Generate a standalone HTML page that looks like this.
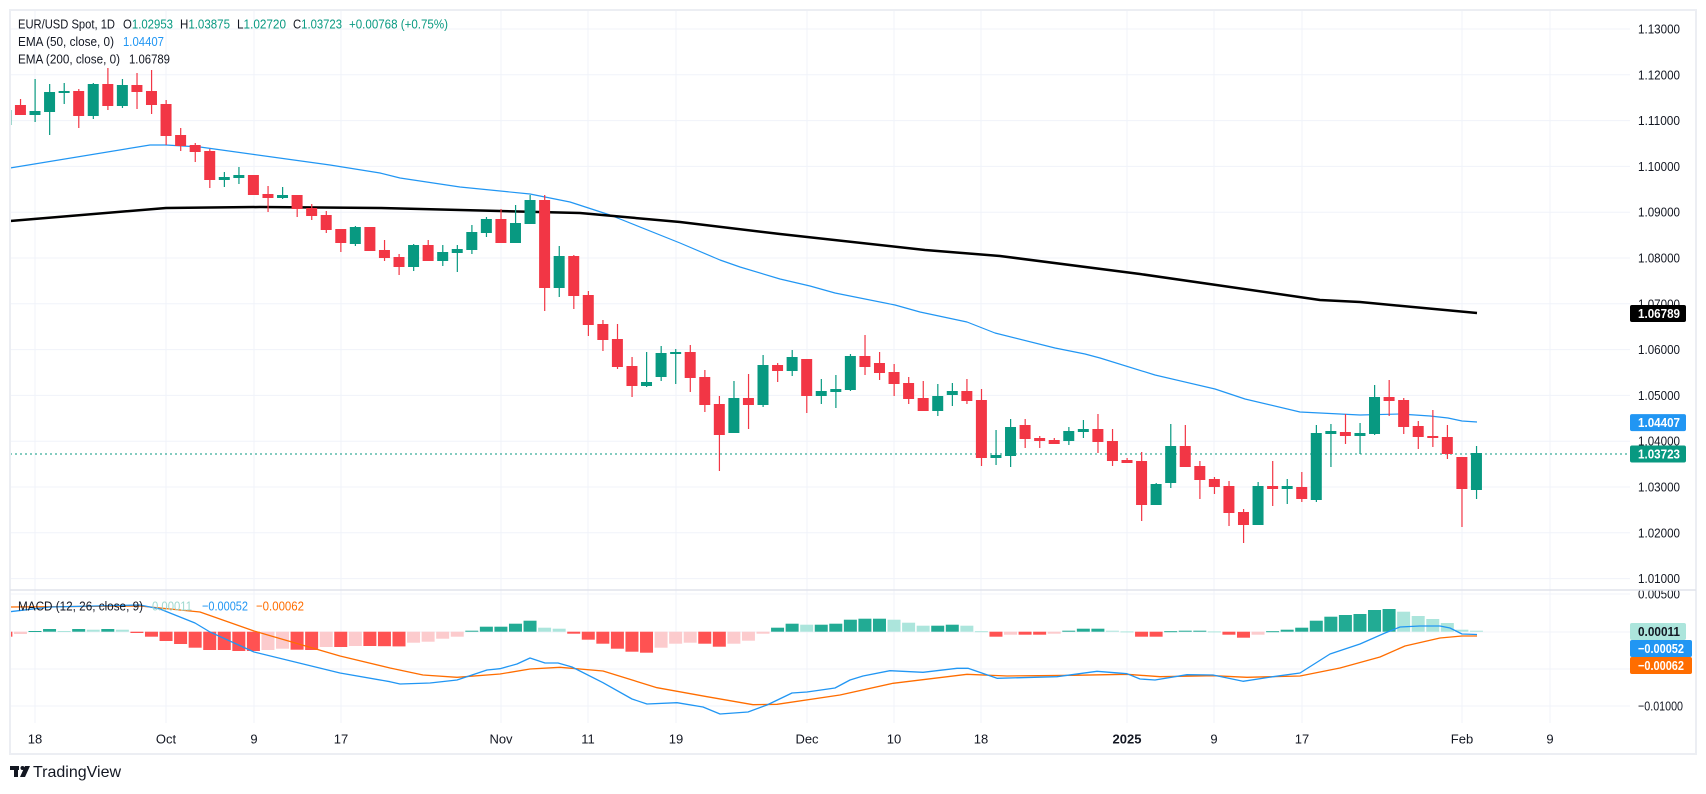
<!DOCTYPE html>
<html><head><meta charset="utf-8">
<style>
html,body{margin:0;padding:0;background:#fff;}
body{width:1706px;height:789px;overflow:hidden;font-family:"Liberation Sans",sans-serif;}
svg text{font-family:"Liberation Sans",sans-serif;}
</style></head>
<body>
<svg id="c" width="1706" height="789" viewBox="0 0 1706 789" xmlns="http://www.w3.org/2000/svg">
<defs><clipPath id="cl"><rect x="10" y="10" width="1620" height="744"/></clipPath></defs>
<g id="grid"></g>
<g id="hist" clip-path="url(#cl)"></g>
<g id="lines" clip-path="url(#cl)"></g>
<g id="candles" clip-path="url(#cl)"></g>
<g id="labels"></g>
<rect x="10" y="10" width="1686" height="744" fill="none" stroke="#eceef3" stroke-width="2"/>
<line x1="10" y1="590" x2="1696" y2="590" stroke="#e0e3eb" stroke-width="1.5"/>
<!-- legend -->
<g font-size="13" fill="#131722">
<text x="18" y="28.5" textLength="97" lengthAdjust="spacingAndGlyphs">EUR/USD Spot, 1D</text>
<text x="123" y="28.5" textLength="50" lengthAdjust="spacingAndGlyphs">O<tspan fill="#089981">1.02953</tspan></text>
<text x="180" y="28.5" textLength="50" lengthAdjust="spacingAndGlyphs">H<tspan fill="#089981">1.03875</tspan></text>
<text x="237" y="28.5" textLength="49" lengthAdjust="spacingAndGlyphs">L<tspan fill="#089981">1.02720</tspan></text>
<text x="293" y="28.5" textLength="49" lengthAdjust="spacingAndGlyphs">C<tspan fill="#089981">1.03723</tspan></text>
<text x="349" y="28.5" fill="#089981" textLength="99" lengthAdjust="spacingAndGlyphs">+0.00768 (+0.75%)</text>
<text x="18" y="46" textLength="96" lengthAdjust="spacingAndGlyphs">EMA (50, close, 0)</text>
<text x="123" y="46" fill="#2196f3" textLength="41" lengthAdjust="spacingAndGlyphs">1.04407</text>
<text x="18" y="63.5" textLength="102" lengthAdjust="spacingAndGlyphs">EMA (200, close, 0)</text>
<text x="129" y="63.5" textLength="41" lengthAdjust="spacingAndGlyphs">1.06789</text>
<text x="18" y="610.5" textLength="125" lengthAdjust="spacingAndGlyphs">MACD (12, 26, close, 9)</text>
<text x="152" y="610.5" fill="#9fd8cf" textLength="40" lengthAdjust="spacingAndGlyphs">0.00011</text>
<text x="202" y="610.5" fill="#2196f3" textLength="46" lengthAdjust="spacingAndGlyphs">−0.00052</text>
<text x="256" y="610.5" fill="#ff6d00" textLength="48" lengthAdjust="spacingAndGlyphs">−0.00062</text>
</g>
<!-- logo -->
<g fill="#131722">
<rect x="10" y="766" width="9" height="4"/>
<rect x="14" y="766" width="4" height="11"/>
<circle cx="22.5" cy="768" r="2"/>
<polygon points="25,766 30,766 25,777 20,777"/>
<text x="33" y="777" font-size="16">TradingView</text>
</g>
</svg>
<script>
var NS="http://www.w3.org/2000/svg";
function el(p,t,a,txt){var e=document.createElementNS(NS,t);for(var k in a)e.setAttribute(k,a[k]);if(txt!==undefined)e.textContent=txt;document.getElementById(p).appendChild(e);return e;}
function X(i){return 35+14.56*i;}
var prices=["1.13000","1.12000","1.11000","1.10000","1.09000","1.08000","1.07000","1.06000","1.05000","1.04000","1.03000","1.02000","1.01000"];
for(var k=0;k<prices.length;k++){var y=29+k*45.8;el("grid","line",{x1:10,x2:1630,y1:y,y2:y,stroke:"#f0f3fa","stroke-width":1});
 el("labels","text",{x:1638,y:y+4.5,"font-size":13,fill:"#131722",textLength:42,lengthAdjust:"spacingAndGlyphs"},prices[k]);}
[594,632,669,706].forEach(function(y){el("grid","line",{x1:10,x2:1630,y1:y,y2:y,stroke:"#f0f3fa","stroke-width":1});});
el("labels","rect",{x:1630,y:591,width:60,height:5,fill:"#fff"});
el("labels","text",{x:1638,y:598.5,"font-size":13,fill:"#131722",textLength:42,lengthAdjust:"spacingAndGlyphs"},"0.00500");
el("labels","text",{x:1638,y:710.5,"font-size":13,fill:"#131722",textLength:45,lengthAdjust:"spacingAndGlyphs"},"−0.01000");
var tl=[[35,"18"],[166,"Oct"],[254,"9"],[341,"17"],[501,"Nov"],[588,"11"],[676,"19"],[807,"Dec"],[894,"10"],[981,"18"],[1127,"2025"],[1214,"9"],[1302,"17"],[1462,"Feb"],[1550,"9"]];
tl.forEach(function(t){el("grid","line",{x1:t[0],x2:t[0],y1:10,y2:723,stroke:"#f0f3fa","stroke-width":1});
 var a={x:t[0],y:743.5,"font-size":13,fill:"#131722","text-anchor":"middle"};if(t[1]=="2025")a["font-weight"]="bold";el("labels","text",a,t[1]);});
var H=[-5,-2.3,0.7,2.7,0.7,2.7,2,2.7,2,-1.3,-5,-9.3,-12.3,-16,-18.3,-18.3,-19.3,-19.3,-18.3,-17,-18,-18.3,-15.3,-15.3,-14.3,-14.3,-14.5,
-14.7,-11,-10,-7,-5,1,5,5,8,11,4,3,-2,-8,-12,-17,-20,-21,-16,-12,-11,-12,-15,-12,-9,-2,4,8,7,7,8,12,
13,13,12,9,6,6,7,6,0.5,-5,-3,-3,-3,-2,1,3,3,1,0.3,-5,-5,0.5,1,1,0.3,-3,-6,-3,0.5,2,
4,11,15,16.7,17.7,21.7,22.7,20,15.7,12.7,8.7,2,1];
var hv={};var idx=-2;for(var q=0;q<27;q++){hv[idx++]=H[q];}
idx=25;for(q=27;q<H.length;q++){hv[idx++]=H[q];}
var prev=0;
for(var i=-2;i<=99;i++){var h=hv[i];if(h===undefined)h=prev;var col;
 if(h>=0)col=(h>=prev)?"#22ab94":"#ace5dc";else col=(h<=prev)?"#ff5252":"#fccbcd";
 var y=h>=0?631.7-h:631.7;el("hist","rect",{x:X(i)-6.5,y:y,width:13,height:Math.max(Math.abs(h),1),fill:col});prev=h;}
function pl(pts,c,w){el("lines","polyline",{points:pts.map(function(p){return p.join(",");}).join(" "),fill:"none",stroke:c,"stroke-width":w,"stroke-linejoin":"round"});}
pl([[10,168],[150,145],[166,145],[200,147],[330,165],[380,173],[400,178],[460,187],[530,194],[570,202],[610,215],[680,243],[720,260],[740,267],[780,279],[810,286],[835,293],[895,305],[920,312],[967,322],[995,333],[1055,348],[1085,354],[1100,358],[1155,375],[1215,389],[1245,399],[1300,412],[1360,415],[1400,414],[1430,416],[1448,418],[1462,421],[1477,422]],"#2196f3",1.2);
pl([[10,221],[166,208],[260,207],[380,208],[500,211],[580,213],[680,222],[780,234],[925,250],[1000,256],[1140,274],[1320,300],[1360,302],[1477,313]],"#000",2.5);
pl([[10,607],[140,606],[200,612],[254,631],[340,656],[390,668],[423,675],[457,677.3],[500,674],[530,669],[560,667.3],[603,671],[657,687.7],[707,696.7],[753,704.7],[777,704.3],[840,695],[893,683.3],[967,674.3],[1007,676],[1073,675.3],[1127,674.3],[1160,676.7],[1213,675.7],[1247,677.3],[1300,676],[1340,668],[1380,657],[1405,646],[1440,638],[1462,636],[1477,636]],"#ff6d00",1.3);
pl([[10,611.7],[50,607],[140,605],[160,609],[195,623],[210,632],[254,652],[340,673],[390,681.7],[400,684],[430,683],[457,680],[487,670],[500,668.7],[517,664],[530,658],[545,663],[558,663],[572,667],[603,682.7],[632,699],[647,704],[677,702.7],[703,707],[720,714],[748,712],[767,705],[792,693],[807,692],[835,688],[850,680],[863,676],[890,670.7],[923,672.3],[957,668.3],[968,668.3],[997,678.3],[1057,676.7],[1097,671.3],[1127,673.7],[1140,679],[1155,680],[1187,674.7],[1213,675],[1243,681.3],[1273,676.7],[1300,673],[1330,654],[1360,644],[1385,633],[1400,627],[1420,626],[1440,626],[1450,628],[1462,634],[1477,634.5]],"#2196f3",1.3);
el("lines","line",{x1:10,x2:1630,y1:454,y2:454,stroke:"#089981","stroke-width":1,"stroke-dasharray":"2,3"});
var D=`-2 g 110 125 105 132
-1 r 105 115 99 115
0 g 111 115 79 122
1 g 92 112 84 135
2 g 91 93 83 104
3 r 91 116 89 128
4 g 84 116 83 119
5 r 84 106 68 110
6 g 85 106 79 108
7 r 85 92 73 109
8 r 91 105 70 114
9 r 104 136 100 145
10 r 135 146 128 151
11 r 145 152 143 162
12 r 151 180 149 188
13 g 177 180 172 187
14 g 175 178 167 184
15 r 175 195 175 195
16 r 194 198 186 212
17 g 195 198 187 199
18 r 195 209 195 217
19 r 208 216 204 220
20 r 215 230 211 233
21 r 229 243 229 252
22 g 227 244 226 246
23 r 227 251 227 251
24 r 250 258 240 261
25 r 257 267 254 275
26 g 245 267 244 271
27 r 245 261 240 261
28 g 252 261 245 266
29 g 249 253 245 272
30 g 232 250 225 254
31 g 219 233 217 237
32 r 219 243 209 243
33 g 223 243 205 243
34 g 200 224 195 224
35 r 200 288 195 311
36 g 256 288 246 297
37 r 256 296 255 309
38 r 295 325 291 336
39 r 324 340 320 351
40 r 339 367 324 369
41 r 366 386 357 397
42 g 382 386 352 387
43 g 353 377 346 381
44 g 352 354 349 384
45 r 352 378 345 392
46 r 377 405 370 412
47 r 404 435 396 471
48 g 398 433 381 433
49 r 398 405 374 429
50 g 365 405 355 407
51 r 365 371 363 382
52 g 357 371 350 376
53 r 359 396 359 413
54 g 391 396 379 404
55 g 389 392 375 408
56 g 356 390 354 391
57 r 356 367 335 375
58 r 363 373 352 380
59 r 372 384 364 396
60 r 383 399 377 404
61 r 398 411 381 411
62 g 396 411 384 416
63 g 391 395 383 406
64 r 391 401 379 404
65 r 400 458 389 466
66 g 455 458 430 465
67 g 427 456 419 467
68 r 425 439 419 448
69 r 438 441 436 448
70 r 440 444 438 444
71 g 431 441 427 445
72 g 429 432 420 438
73 r 429 442 414 453
74 r 441 461 429 466
75 r 460 463 458 463
76 r 461 505 452 521
77 g 484 505 483 505
78 g 446 483 424 488
79 r 446 467 425 467
80 r 466 480 461 499
81 r 479 487 477 494
82 r 486 513 481 526
83 r 512 525 509 543
84 g 486 525 482 525
85 r 486 489 461 506
86 g 486 489 479 504
87 r 487 499 472 502
88 g 433 500 425 502
89 g 431 434 424 467
90 r 432 436 414 444
91 g 433 436 423 454
92 g 397 434 385 435
93 r 397 401 380 416
94 r 400 427 398 434
95 r 426 437 421 449
96 r 436 438 410 447
97 r 437 454 425 459
98 r 457 489 457 527
99 g 453 490 446 499`;
D.split("\n").forEach(function(l){var p=l.trim().split(/\s+/);var i=+p[0],c=p[1]=="g"?"#089981":"#f23645";
 var bt=+p[2],bb=+p[3],wt=+p[4],wb=+p[5];var x=X(i);
 el("candles","rect",{x:x-0.5,y:wt,width:1.2,height:wb-wt,fill:c});
 el("candles","rect",{x:x-5.5,y:bt,width:11,height:Math.max(bb-bt,2),fill:c});});
function box(y,w,bg,fg,txt){el("labels","rect",{x:1630,y:y-8.5,width:w,height:17,rx:2,fill:bg});el("labels","text",{x:1638,y:y+4.5,"font-size":13,fill:fg,"font-weight":"bold",textLength:(txt.length>7?46:42),lengthAdjust:"spacingAndGlyphs"},txt);}
box(313.5,56,"#000","#fff","1.06789");
box(422.6,56,"#2196f3","#fff","1.04407");
box(454,56,"#089981","#fff","1.03723");
box(631.5,56,"#ace5dc","#131722","0.00011");
box(648.5,62,"#2196f3","#fff","−0.00052");
box(665.5,62,"#ff6d00","#fff","−0.00062");
</script>
</body></html>
